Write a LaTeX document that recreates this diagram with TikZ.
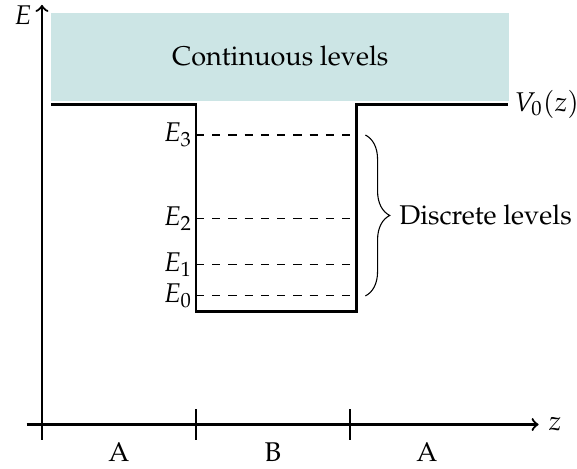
\documentclass[tikz,border=0pt]{standalone}
\usepackage[T1]{fontenc}
\usepackage{mathpazo}
\usetikzlibrary{decorations.pathreplacing}
\begin{document}
\begin{tikzpicture}[thick, lvl/.style={thin, dashed}, pot/.style={line width=1pt}]
	\useasboundingbox (-0.545,-0.565) rectangle (6.948,5.513);
	
	%Kontinuum
	\fill[teal!20] (0.12,4.205) rectangle (6.065,5.35);
	\node (cont) at (3.095,4.78) {Continuous levels};
	
	%Achsen
	\coordinate (O) at (0,0);
	\draw[->] (0,-0.2) -- (0,5.45);
	\node[left] (E) at (0,5.32) {$E$};
	\draw[->] (-0.2,0) -- (6.45,0) node[right] (z) {$z$};
	\foreach \x in {0,2,4} \draw (\x,-0.2) -- (\x,0.2);
	
	\node (regA1) at (1,-0.36) {A};
	\node (regB)  at (3,-0.36) {B};
	\node (regA2) at (5,-0.36) {A};
	
	%Potential
	\draw[pot] (0.12,4.16) -- (2,4.16) -- (2,1.47) -- (4.08,1.47) -- (4.08,4.16) -- (6.05,4.16)
	node[right, inner sep=2pt] (V) {$V_0(z)$};
	
	%Niveaus
	\foreach \n/\y in {0/1.67,1/2.08,2/2.67,3/3.76}
	{
		\coordinate (L\n) at (2,\y);
		\coordinate (R\n) at (4,\y);
		\node[left, inner sep=1pt] (E\n) at (L\n) {$E_\n$};
		\draw[lvl] (L\n) -- (R\n);
	}
	
	%Klammer
	\draw[thin, decorate, decoration={brace, amplitude=9pt}]
	(4.2,3.76) -- (4.2,1.67) node[midway, right=9pt] (disc) {Discrete levels};
	
\end{tikzpicture}
\end{document}
